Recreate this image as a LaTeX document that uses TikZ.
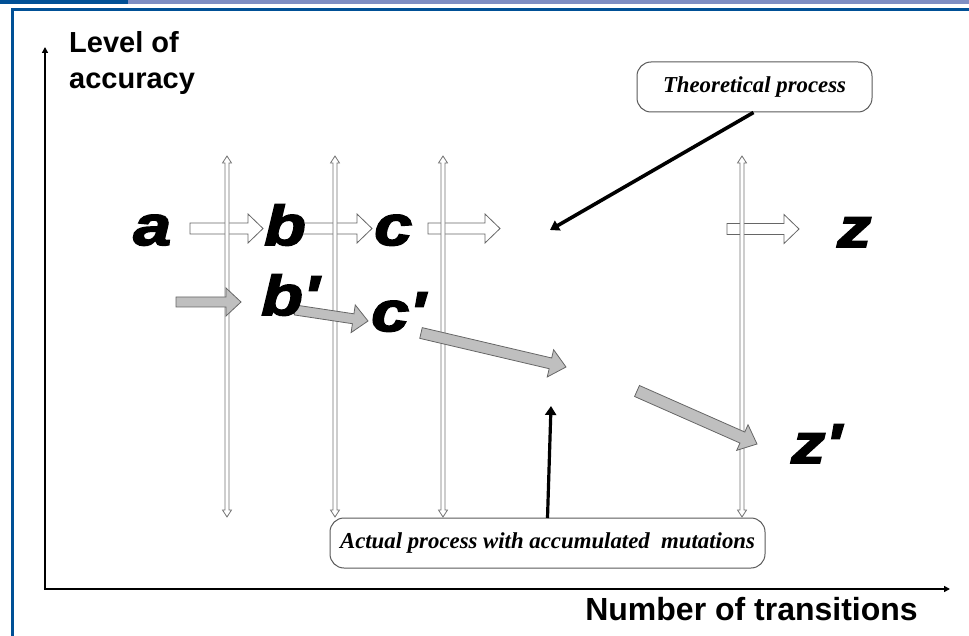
\documentclass[tikz,border=0pt]{standalone}
\usepackage{fontspec}
\setmainfont{Liberation Serif}
\newfontfamily\lsans{Liberation Sans}
\newfontfamily\heavyit{Liberation Sans}[FakeBold=3,FakeStretch=1.22,Ligatures=TeXOff]
\usetikzlibrary{calc,arrows.meta}
\definecolor{frameblue}{RGB}{0,80,150}
\definecolor{barblue}{RGB}{127,142,195}
\newcommand\blockarr[6]{%
  \coordinate (hbx) at ($(#3)!#6!(#2)$);
  \draw[#1] ($(#2)!#4!90:(#3)$) -- ($(hbx)!#4!90:(#3)$) -- ($(hbx)!#5!90:(#3)$) -- (#3)
    -- ($(hbx)!#5!-90:(#3)$) -- ($(hbx)!#4!-90:(#3)$) -- ($(#2)!#4!-90:(#3)$) -- cycle;}
\newcommand\dblarr[6]{%
  \coordinate (hax) at ($(#2)!#6!(#3)$);
  \coordinate (hbx) at ($(#3)!#6!(#2)$);
  \draw[#1] (#2) -- ($(hax)!#5!90:(#3)$) -- ($(hax)!#4!90:(#3)$) -- ($(hbx)!#4!90:(#3)$)
    -- ($(hbx)!#5!90:(#3)$) -- (#3) -- ($(hbx)!#5!-90:(#3)$) -- ($(hbx)!#4!-90:(#3)$)
    -- ($(hax)!#4!-90:(#3)$) -- ($(hax)!#5!-90:(#3)$) -- cycle;}
\tikzset{
  whitearr/.style={fill=white, draw=black!60, line width=0.8pt},
  grayarr/.style={fill=black!25, draw=black!60, line width=0.8pt},
  vtrack/.style={fill=white, draw=black!55, line width=0.8pt},
  pointer/.style={line width=3.6pt, -{Triangle[length=9pt,width=11pt]}},
  procbox/.style={draw=black!65, line width=1pt, rounded corners=14pt, inner sep=0pt,
    font=\bfseries\itshape},
  letter/.style={font=\heavyit\bfseries\itshape\fontsize{56}{60}\selectfont, inner sep=0pt, anchor=base west},
  axislabel/.style={font=\lsans\bfseries, inner sep=0pt},
}
\begin{document}
\begin{tikzpicture}[x=1pt,y=-1pt]
\useasboundingbox (0,0) rectangle (969,636);
% frame
\fill[barblue] (128,0) rectangle (969,4);
\fill[frameblue] (0,0) rectangle (128,4);
\fill[frameblue] (11,8) rectangle (969,11);
\fill[frameblue] (11,8) rectangle (14,636);
% axes
\coordinate (o) at (45,589);
\coordinate (ytop) at (45,47);
\coordinate (xend) at (950,589);
\draw[line width=2.5pt, -{Triangle[length=6pt,width=6pt]}] (o) -- (ytop);
\draw[line width=2.5pt, -{Triangle[length=6pt,width=6pt]}] ([xshift=-1.25pt]o) -- (xend);
\node[axislabel, anchor=north west, align=left, font=\lsans\bfseries\fontsize{29}{36}\selectfont] (ylab) at (69,31) {Level of\\accuracy};
\node[axislabel, anchor=base east, font=\lsans\bfseries\fontsize{32}{36}\selectfont] (xlab) at (918,620) {Number of transitions};
% white arrows (theoretical)
\coordinate (a1) at (190,228.5); \coordinate (a2) at (263,228.5);
\coordinate (b1) at (297,228.5); \coordinate (b2) at (372,228.5);
\coordinate (c1) at (428,228.5); \coordinate (c2) at (500,228.5);
\coordinate (z1) at (727,229);   \coordinate (z2) at (799,229);
\blockarr{whitearr}{a1}{a2}{5.5pt}{14.5pt}{15pt}
\blockarr{whitearr}{b1}{b2}{5.5pt}{14.5pt}{15pt}
\blockarr{whitearr}{c1}{c2}{5.5pt}{14.5pt}{15pt}
\blockarr{whitearr}{z1}{z2}{5.5pt}{14.5pt}{15pt}
% vertical tracks
\foreach \x/\n in {227/v1,335/v2,443/v3,742/v4}{
  \coordinate (\n t) at (\x,156);
  \coordinate (\n b) at (\x,517);
  \dblarr{vtrack}{\n t}{\n b}{2pt}{4.5pt}{7pt}
}
% gray arrows (actual)
\coordinate (p1) at (176,302); \coordinate (p2) at (241,302);
\coordinate (q1) at (295,310); \coordinate (q2) at (368,321);
\coordinate (r1) at (421,333); \coordinate (r2) at (566,367);
\coordinate (s1) at (637,391); \coordinate (s2) at (757,444);
\blockarr{grayarr}{p1}{p2}{5pt}{14pt}{15pt}
\blockarr{grayarr}{q1}{q2}{5pt}{14pt}{15pt}
\blockarr{grayarr}{r1}{r2}{5.5pt}{14pt}{16pt}
\blockarr{grayarr}{s1}{s2}{6pt}{14pt}{16pt}
% letters
\node[letter] (la) at (133,245) {a};
\node[letter] (lb) at (264,245) {b};
\node[letter] (lc) at (374,245) {c};
\node[letter] (lz) at (837,247) {z};
\node[letter] (lbp) at (261,315) {b'};
\node[letter] (lcp) at (371,331) {c'};
\node[letter] (lzp) at (791,463) {z'};
% process boxes
\node[procbox, minimum width=235pt, minimum height=50pt, font=\bfseries\itshape\fontsize{22.8}{25}\selectfont] (theo) at (754.5,87) {Theoretical process};
\node[procbox, minimum width=435pt, minimum height=50pt, font=\bfseries\itshape\fontsize{22.8}{25}\selectfont] (act) at (547.5,543) {Actual process with accumulated~ mutations};
% pointers
\coordinate (t1) at (550,230);
\coordinate (t2) at (551,406);
\draw[pointer] ([xshift=-1pt]theo.south) -- (t1);
\draw[pointer, line width=3.2pt] ([yshift=-0.5pt]act.north) -- (t2);
\end{tikzpicture}
\end{document}
